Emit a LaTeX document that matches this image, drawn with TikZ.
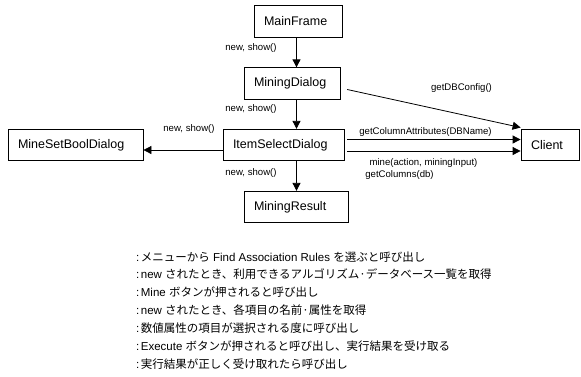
\documentclass[tikz,border=0pt]{standalone}
\usepackage{fontspec}
\setmainfont{Liberation Sans}
\newfontfamily\jp{Noto Sans CJK JP}
\usetikzlibrary{arrows.meta}
\begin{document}
\begin{tikzpicture}[x=1pt,y=-1pt,
  box/.style={draw, line width=0.8pt, minimum height=31.5pt, inner xsep=10pt, inner ysep=0pt, align=left, font=\fontsize{12.5}{14}\selectfont},
  lbl/.style={font=\fontsize{9.6}{11}\selectfont, inner sep=0pt},
  arr/.style={line width=0.8pt, -{Triangle[length=8pt,width=8pt]}},
  note/.style={anchor=base west, inner sep=0pt, font=\fontsize{11.5}{13}\selectfont}]
\useasboundingbox (0,0) rectangle (581,376);
% boxes
\node[box, text width=68pt] (mf) at (298,21.5) {MainFrame};
\node[box, text width=76pt] (md) at (292,83.5) {MiningDialog};
\node[box, text width=101pt] (isd) at (283.5,145) {ItemSelectDialog};
\node[box, text width=84pt] (mr) at (296,207) {MiningResult};
\node[box, text width=115pt] (msb) at (75.5,145) {MineSetBoolDialog};
\node[box, text width=38pt] (cl) at (550,145) {Client};
% helper coordinates
\coordinate (vx) at (296.5,0);
\coordinate (hy) at (0,150);
\coordinate (c1) at (0,139.5);
\coordinate (c2) at (0,151);
\coordinate (d1) at (0,88);
\coordinate (d2) at (0,127.5);
% connectors
\draw[arr] (mf.south -| vx) -- (md.north -| vx);
\draw[arr] (md.south -| vx) -- (isd.north -| vx);
\draw[arr] (isd.south -| vx) -- (mr.north -| vx);
\draw[arr] (isd.west |- hy) -- (msb.east |- hy);
\draw[arr, shorten <=3pt] (isd.east |- c1) -- (cl.west |- c1);
\draw[arr, shorten <=3pt] (isd.east |- c2) -- (cl.west |- c2);
\draw[arr, shorten <=7pt] (md.east |- d1) -- (cl.west |- d2);
% labels
\node[lbl] (l1) at (251,48) {new, show()};
\node[lbl] (l2) at (251,109) {new, show()};
\node[lbl] (l3) at (189,129.5) {new, show()};
\node[lbl] (l4) at (251,173) {new, show()};
\node[lbl] (l5) at (461.5,88) {getDBConfig()};
\node[lbl] (l6) at (425.5,132) {getColumnAttributes(DBName)};
\node[lbl] (l7) at (423.5,163) {mine(action, miningInput)};
\node[lbl] (l8) at (399.5,175) {getColumns(db)};
% notes
\node[note] (n1) at (136,261) {:\hspace{1.5pt}{\jp メニューから} Find Association Rules {\jp を選ぶと呼び出し}};
\node[note] (n2) at (136,278.9) {:\hspace{1.5pt}new {\jp されたとき、利用できるアルゴリズム·データベース一覧を取得}};
\node[note] (n3) at (136,296.8) {:\hspace{1.5pt}Mine {\jp ボタンが押されると呼び出し}};
\node[note] (n4) at (136,314.7) {:\hspace{1.5pt}new {\jp されたとき、各項目の名前·属性を取得}};
\node[note] (n5) at (136,332.6) {:\hspace{1.5pt}{\jp 数値属性の項目が選択される度に呼び出し}};
\node[note] (n6) at (136,350.5) {:\hspace{1.5pt}Execute {\jp ボタンが押されると呼び出し、実行結果を受け取る}};
\node[note] (n7) at (136,368.4) {:\hspace{1.5pt}{\jp 実行結果が正しく受け取れたら呼び出し}};
\end{tikzpicture}
\end{document}
